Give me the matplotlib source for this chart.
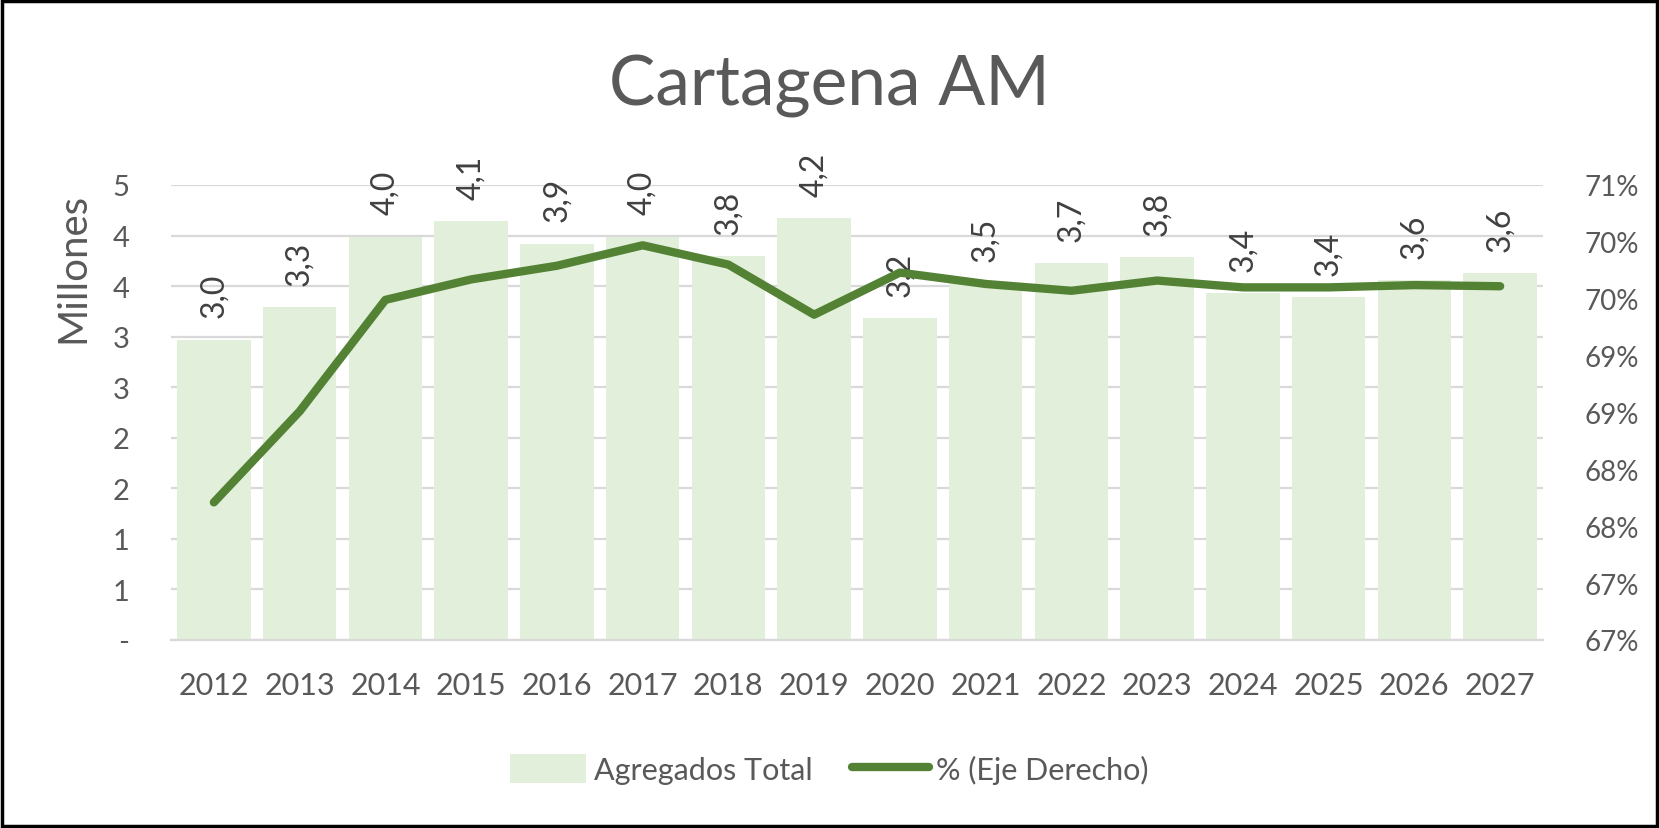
import numpy as np
from matplotlib import pyplot as plt
from matplotlib.patches import Rectangle
from matplotlib.ticker import FuncFormatter, MultipleLocator

years = ["2012", "2013", "2014", "2015", "2016", "2017", "2018", "2019",
         "2020", "2021", "2022", "2023", "2024", "2025", "2026", "2027"]
agregados = [2.97, 3.29, 3.99, 4.14, 3.92, 3.99, 3.80, 4.17,
             3.18, 3.53, 3.73, 3.79, 3.43, 3.39, 3.56, 3.63]
porcentaje = [67.71, 68.51, 69.49, 69.67, 69.79, 69.97, 69.80, 69.36,
              69.73, 69.63, 69.57, 69.66, 69.60, 69.60, 69.62, 69.61]

bar_color = "#E2EFDA"
line_color = "#548235"
text_color = "#595959"
grid_color = "#D9D9D9"
plt.rcParams['font.family'] = ['Lato', 'DejaVu Sans']

W, H = 1659, 829
fig = plt.figure(figsize=(W / 100, H / 100), dpi=100)
ax = fig.add_axes([171 / W, (H - 641) / H, 1372 / W, 455 / H])

x = np.arange(len(years))
ax.bar(x, agregados, width=0.86, color=bar_color, label="Agregados Total", zorder=2)
for xi, v in zip(x, agregados):
    ax.annotate(f"{v:.1f}".replace(".", ","), (xi, v), xytext=(0, 16),
                textcoords="offset points", rotation=90, ha="center", va="bottom",
                fontsize=23, color="#404040", zorder=5)

ax.set_xlim(-0.5, len(years) - 0.5)
ax.set_ylim(0, 4.5)
ax.yaxis.set_major_locator(MultipleLocator(0.5))
ax.yaxis.set_major_formatter(FuncFormatter(
    lambda v, p: "-" if abs(v) < 1e-9 else f"{int(np.floor(v + 0.5))}"))
ax.grid(axis="y", color=grid_color, linewidth=1.6, zorder=0)
ax.set_axisbelow(True)
ax.set_xticks(x)
ax.set_xticklabels(years)
ax.tick_params(axis="both", length=0, labelsize=21, labelcolor=text_color)
ax.tick_params(axis="x", labelsize=22, pad=22)
ax.tick_params(axis="y", pad=30)
for s in ["top", "right", "left"]:
    ax.spines[s].set_visible(False)
ax.spines["bottom"].set_color(grid_color)
ax.spines["bottom"].set_linewidth(1.6)
ax.set_ylabel("Millones", fontsize=29, color=text_color)
ax.yaxis.set_label_coords(-0.058, 0.82)

ax2 = ax.twinx()
ax2.plot(x, porcentaje, color=line_color, linewidth=6, solid_capstyle="round",
         solid_joinstyle="round", label="% (Eje Derecho)", zorder=4)
ax2.set_ylim(66.5, 70.5)
ax2.yaxis.set_major_locator(MultipleLocator(0.5))
ax2.yaxis.set_major_formatter(FuncFormatter(lambda v, p: f"{int(np.floor(v + 0.5 + 1e-9))}%"))
ax2.tick_params(axis="y", length=0, labelsize=20, labelcolor=text_color, pad=30)
for s in ax2.spines.values():
    s.set_visible(False)

fig.suptitle("Cartagena AM", x=0.5, y=1 - 87 / H, va="center", fontsize=50, color=text_color)

h1, l1 = ax.get_legend_handles_labels()
h2, l2 = ax2.get_legend_handles_labels()
fig.legend(h1 + h2, l1 + l2, loc="center", bbox_to_anchor=(0.5, 1 - 770 / H), ncol=2,
           frameon=False, fontsize=22, labelcolor=text_color, handlelength=2.5,
           handleheight=1.1, columnspacing=1.3, handletextpad=0.25)

fig.patches.append(Rectangle((0.001, 0.002), 0.998, 0.996, transform=fig.transFigure,
                             fill=False, edgecolor="black", linewidth=2.5))

plt.savefig("out.png", dpi=100)
